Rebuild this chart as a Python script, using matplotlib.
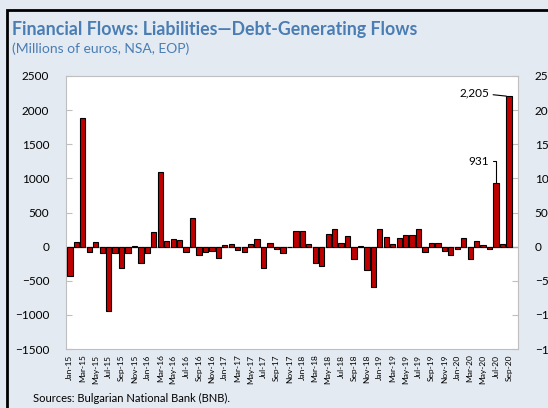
import matplotlib.pyplot as plt
from matplotlib.patches import Rectangle
import numpy as np

# monthly flows, Jan-15 .. Sep-20 (millions of euros)
months = ['Jan', 'Feb', 'Mar', 'Apr', 'May', 'Jun', 'Jul', 'Aug', 'Sep', 'Oct', 'Nov', 'Dec']
labels = [f'{m}-{y}' for y in range(15, 21) for m in months][:69]
values = [-430, 70, 1890, -73, 70, -90, -950, -100, -315, -100, 5, -245,
          -100, 213, 1090, 82, 107, 97, -73, 422, -126, -78, -63, -170,
          29, 44, -53, -73, 34, 107, -310, 48, -40, -90, -10, 228,
          228, 34, -247, -281, 184, 252, 53, 150, -184, 5, -349, -597,
          262, 145, 34, 121, 170, 175, 262, -78, 58, 48, -63, -126,
          -29, 131, -184, 78, 29, -34, 931, 34, 2205]

bg = '#e3eaf2'
blue = '#4a7db3'
plt.rcParams['font.family'] = ['Lato', 'DejaVu Sans']

fig = plt.figure(figsize=(5.48, 4.08), dpi=100, facecolor=bg)
fig.patches.append(Rectangle((7 / 548, -0.1), 1.2, 1 - 10 / 408 + 0.1, transform=fig.transFigure,
                             fill=False, edgecolor='black', linewidth=2))
fig.text(12 / 548, 1 - 30 / 408, 'Financial Flows: Liabilities\u2014Debt-Generating Flows',
         color=blue, fontsize=12.8, fontweight='bold', va='center')
fig.text(12 / 548, 1 - 49 / 408, '(Millions of euros, NSA, EOP)', color=blue, fontsize=10, va='center')
fig.text(33 / 548, 1 - 398 / 408, 'Sources: Bulgarian National Bank (BNB).', fontsize=8, va='center')

ax = fig.add_axes([66 / 548, 1 - 349 / 408, 452 / 548, 273 / 408])
x = np.arange(len(values))
ax.bar(x, values, width=0.82, color='#c00000', edgecolor='black', linewidth=0.8, zorder=3)
ax.axhline(0, color='#a6a6a6', linewidth=1, zorder=2)
ax.set_xlim(-0.6, len(values) + 0.4)
ax.set_ylim(-1500, 2500)
ax.set_yticks(range(-1500, 2501, 500))
ax.set_xticks(x[::2])
ax.set_xticklabels(labels[::2], rotation=90, fontsize=6)
ax.tick_params(axis='x', length=0, pad=4)
ax.tick_params(axis='y', direction='in', length=4, color='#bfbfbf', labelsize=8.5,
               right=True, labelright=True, pad=12)
for s in ax.spines.values():
    s.set_color('#bfbfbf')

ax.annotate('2,205', xy=(68 - 0.4, 2205), xytext=(64.9, 2255), fontsize=8.5,
            ha='right', va='center',
            arrowprops=dict(arrowstyle='-', color='black', lw=0.8, shrinkA=1, shrinkB=0))
ax.annotate('931', xy=(66, 931), xytext=(64.9, 1250), fontsize=8.5, ha='right', va='center',
            arrowprops=dict(arrowstyle='-', color='black', lw=0.8, shrinkA=1, shrinkB=0,
                            connectionstyle='angle,angleA=0,angleB=90,rad=0'))

fig.savefig('out.png', dpi=100, facecolor=bg)
